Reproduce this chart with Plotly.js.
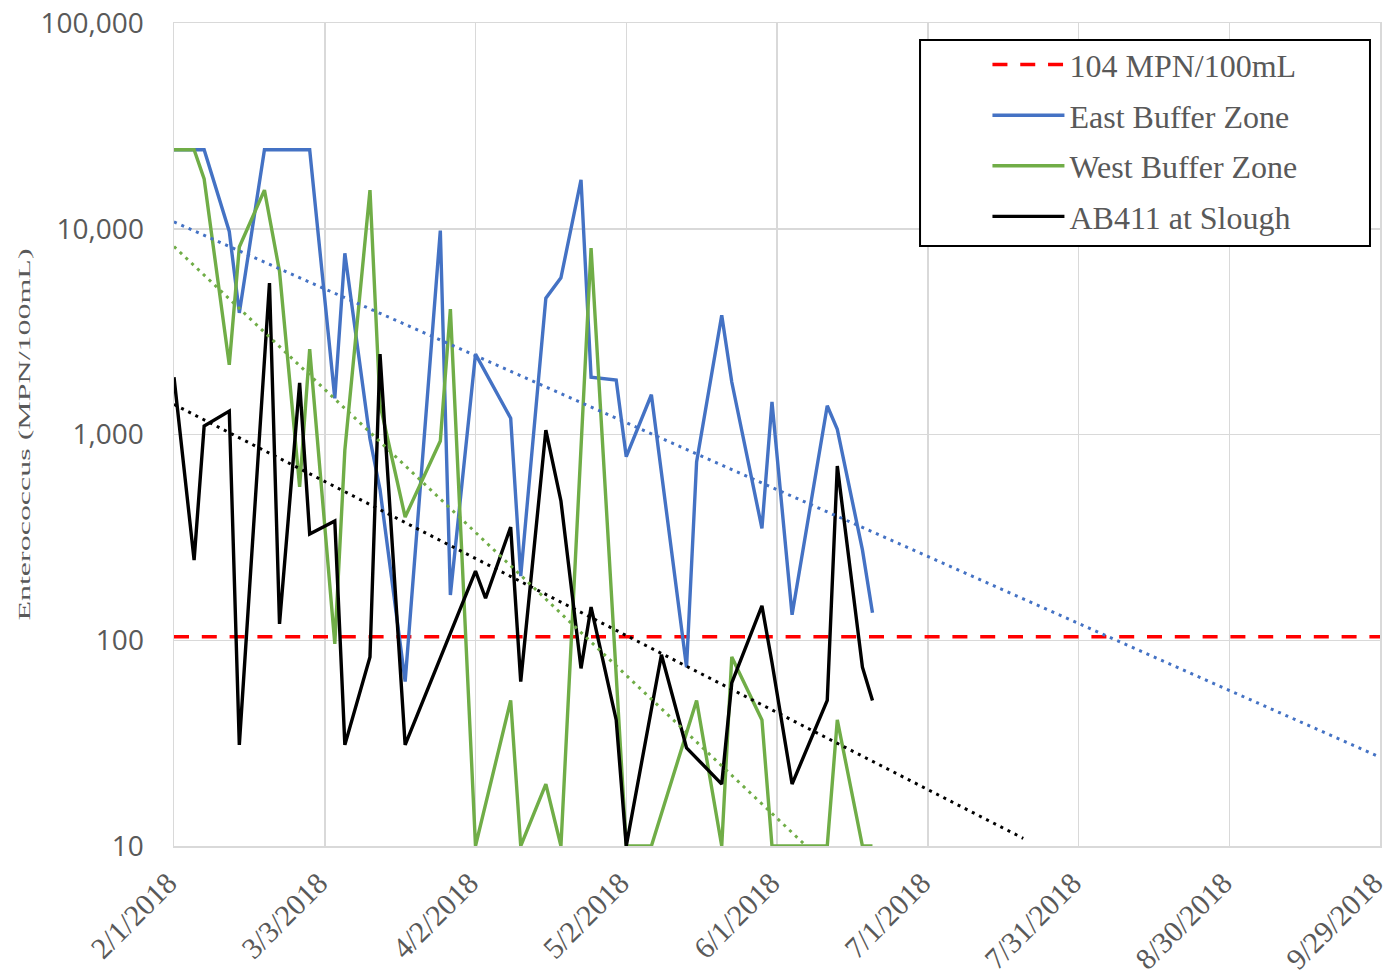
<!DOCTYPE html>
<html>
<head>
<meta charset="utf-8">
<script src="https://cdn.plot.ly/plotly-3.0.1.min.js"></script>
<style>
  html, body { margin: 0; padding: 0; background: #ffffff; }
  #chart { width: 1389px; height: 977px; }
</style>
</head>
<body>
<div id="chart"></div>
<script>
// ---------------- data ----------------
const xTickDates  = ['2018-02-01','2018-03-03','2018-04-02','2018-05-02','2018-06-01','2018-07-01','2018-07-31','2018-08-30','2018-09-29'];
const xTickLabels = ['2/1/2018','3/3/2018','4/2/2018','5/2/2018','6/1/2018','7/1/2018','7/31/2018','8/30/2018','9/29/2018'];
const yTickValues = [10, 100, 1000, 10000, 100000];
const yTickLabels = ['10', '100', '1,000', '10,000', '100,000'];

const thresholdName   = '104 MPN/100mL';
const thresholdDates  = ['2018-02-01', '2018-09-29'];
const thresholdValues = [104, 104];

const eastDates = ['2018-02-01','2018-02-05','2018-02-07','2018-02-12','2018-02-14','2018-02-19','2018-02-22','2018-02-26','2018-02-28',
  '2018-03-05','2018-03-07','2018-03-12','2018-03-14','2018-03-19','2018-03-26','2018-03-28',
  '2018-04-02','2018-04-09','2018-04-11','2018-04-16','2018-04-19','2018-04-23','2018-04-25','2018-04-30',
  '2018-05-02','2018-05-07','2018-05-14','2018-05-16','2018-05-21','2018-05-23','2018-05-29','2018-05-31',
  '2018-06-04','2018-06-11','2018-06-13','2018-06-18','2018-06-20'];
const eastValues = [24196,24196,24196,9700,3900,24196,24196,24196,24196,
  1500,7600,950,540,63,9800,166,
  2460,1200,205,4600,5770,17300,1900,1840,
  780,1560,74,735,3800,1800,350,1440,
  133,1380,1060,275,136];

const westDates = ['2018-02-01','2018-02-05','2018-02-07','2018-02-12','2018-02-14','2018-02-19','2018-02-22','2018-02-26','2018-02-28',
  '2018-03-05','2018-03-07','2018-03-12','2018-03-14','2018-03-19','2018-03-26','2018-03-28',
  '2018-04-02','2018-04-09','2018-04-11','2018-04-16','2018-04-19','2018-04-25',
  '2018-05-02','2018-05-07','2018-05-16','2018-05-21','2018-05-23','2018-05-29','2018-05-31',
  '2018-06-11','2018-06-13','2018-06-18','2018-06-20'];
const westValues = [24196,24196,17460,2180,8150,15400,6200,556,2600,
  96,840,15400,1400,397,930,4070,
  10,51,10,20,10,8060,
  10,10,51,10,83,41,10,
  10,41,10,10];

const sloughDates = ['2018-02-01','2018-02-05','2018-02-07','2018-02-12','2018-02-14','2018-02-20','2018-02-22','2018-02-26','2018-02-28',
  '2018-03-05','2018-03-07','2018-03-12','2018-03-14','2018-03-19',
  '2018-04-02','2018-04-04','2018-04-09','2018-04-11','2018-04-16','2018-04-19','2018-04-23','2018-04-25','2018-04-30',
  '2018-05-02','2018-05-09','2018-05-14','2018-05-21','2018-05-23','2018-05-29','2018-05-31',
  '2018-06-04','2018-06-11','2018-06-13','2018-06-18','2018-06-20'];
const sloughValues = [1900,245,1100,1300,31,5450,120,1780,328,
  380,31,83,2460,31,
  217,160,355,63,1050,475,73,145,41,
  10,85,30,20,62,147,78,
  20,51,703,74,51];

// exponential trend lines (straight on the log axis): end points
const eastTrendDates    = ['2018-02-01', '2018-09-29'];
const eastTrendValues   = [10800, 27];
const westTrendDates    = ['2018-02-01', '2018-07-20'];
const westTrendValues   = [8200, 1.0];
const sloughTrendDates  = ['2018-02-01', '2018-07-20'];
const sloughTrendValues = [1400, 10.9];

// ---------------- styling ----------------
const BLUE = '#4472C4', GREEN = '#70AD47', BLACK = '#000000', RED = '#FF0000';
const GRID = '#d9d9d9', TXT = '#595959';
const SERIF = 'Liberation Serif, Times New Roman, serif';

const traces = [
  { x: thresholdDates, y: thresholdValues, name: thresholdName, mode: 'lines', legendgroup: 'g1',
    line: { color: RED, width: 3.5, dash: '15px,12.8px' }, hoverinfo: 'skip' },
  { x: eastDates, y: eastValues, name: 'East Buffer Zone', mode: 'lines', legendgroup: 'g2',
    line: { color: BLUE, width: 3.4 } },
  { x: westDates, y: westValues, name: 'West Buffer Zone', mode: 'lines', legendgroup: 'g3',
    line: { color: GREEN, width: 3.4 } },
  { x: sloughDates, y: sloughValues, name: 'AB411 at Slough', mode: 'lines', legendgroup: 'g4',
    line: { color: BLACK, width: 3.4 } },
  { x: eastTrendDates, y: eastTrendValues, mode: 'lines', showlegend: false,
    line: { color: BLUE, width: 3, dash: '3px,5px' } },
  { x: westTrendDates, y: westTrendValues, mode: 'lines', showlegend: false,
    line: { color: GREEN, width: 3, dash: '3px,5px' } },
  { x: sloughTrendDates, y: sloughTrendValues, mode: 'lines', showlegend: false,
    line: { color: BLACK, width: 3, dash: '3px,5px' } }
];

const layout = {
  width: 1389, height: 977,
  margin: { l: 174, r: 9, t: 23, b: 131, pad: 0 },
  paper_bgcolor: '#ffffff', plot_bgcolor: '#ffffff',
  font: { family: SERIF, color: TXT },
  showlegend: true,
  xaxis: {
    type: 'date',
    range: [xTickDates[0], xTickDates[xTickDates.length - 1]],
    tickmode: 'array', tickvals: xTickDates, ticktext: xTickLabels,
    tickangle: -45,
    tickfont: { family: SERIF, size: 30, color: TXT },
    ticks: '', ticklabelstandoff: 6, ticklabelshift: -6,
    ticklabeloverflow: 'allow',
    showgrid: true, gridcolor: GRID, gridwidth: 1.5,
    showline: true, linecolor: GRID, linewidth: 1.5, mirror: true,
    zeroline: false, automargin: false
  },
  yaxis: {
    type: 'log', range: [1, 5],
    tickmode: 'array', tickvals: yTickValues, ticktext: yTickLabels,
    tickfont: { family: 'Open Sans, sans-serif', size: 28, color: TXT },
    ticks: '', ticklabelstandoff: 23,
    showgrid: true, gridcolor: GRID, gridwidth: 1.5,
    showline: true, linecolor: GRID, linewidth: 1.5, mirror: true,
    zeroline: false, automargin: false,
    title: { text: 'Enterococcus (MPN/100mL)', font: { family: SERIF, size: 32, color: TXT }, standoff: 0 }
  },
  legend: {
    x: 0.6745, y: 0.9826, xanchor: 'left', yanchor: 'top',
    bgcolor: 'rgba(0,0,0,0)', borderwidth: 0,
    font: { family: SERIF, size: 32, color: TXT },
    itemwidth: 72, tracegroupgap: 6, traceorder: 'grouped'
  },
  shapes: [{
    type: 'rect', xref: 'paper', yref: 'paper', layer: 'above',
    x0: 0.6186, x1: 0.9917, y0: 0.7290, y1: 0.9793,
    fillcolor: '#ffffff', line: { color: '#000000', width: 2 }
  }]
};

Plotly.newPlot('chart', traces, layout, { displayModeBar: false, staticPlot: true }).then(function () {
  // the reference's axis title is drawn with flattened (wide) glyphs; squash glyph height
  const t = document.querySelector('.g-ytitle text');
  if (t) {
    const x = parseFloat(t.getAttribute('x')), y = parseFloat(t.getAttribute('y'));
    const tr = t.getAttribute('transform') || '';
    t.setAttribute('transform', tr + ' translate(' + x + ',' + y + ') scale(1,0.5) translate(' + (-x) + ',' + (-y) + ')');
  }
});
</script>
</body>
</html>
